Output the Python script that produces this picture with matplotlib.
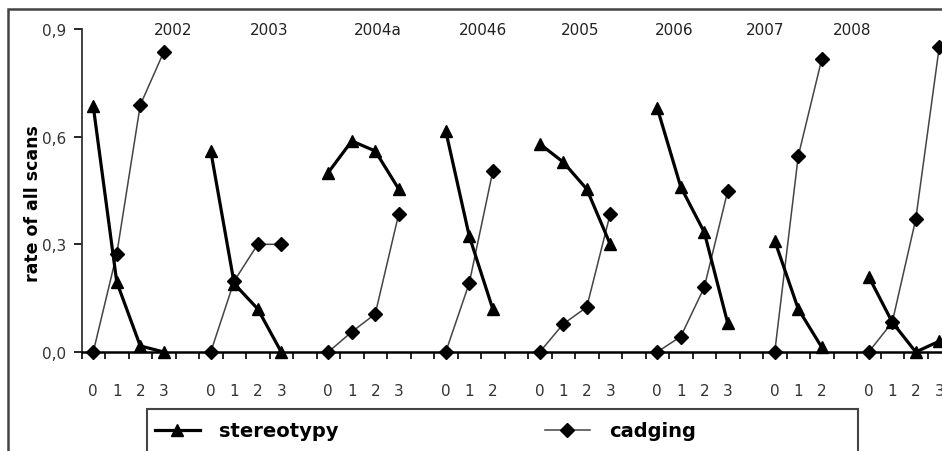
import matplotlib
matplotlib.use('Agg')
import matplotlib.pyplot as plt
from matplotlib.lines import Line2D
from matplotlib.patches import Rectangle

# data (rate of all scans per level 0..3)
groups = ['2002', '2003', '2004a', '20046', '2005', '2006', '2007', '2008']
stereotypy = [
    [0.685, 0.195, 0.017, 0.0],
    [0.56, 0.19, 0.12, 0.0],
    [0.50, 0.588, 0.56, 0.454],
    [0.616, 0.323, 0.12],
    [0.58, 0.529, 0.454, 0.30],
    [0.68, 0.46, 0.334, 0.08],
    [0.31, 0.12, 0.013],
    [0.21, 0.083, 0.0, 0.03],
]
cadging = [
    [0.0, 0.273, 0.688, 0.836],
    [0.0, 0.198, 0.30, 0.30],
    [0.0, 0.056, 0.106, 0.385],
    [0.0, 0.192, 0.503],
    [0.0, 0.078, 0.125, 0.385],
    [0.0, 0.043, 0.18, 0.449],
    [0.0, 0.546, 0.816],
    [0.0, 0.083, 0.37, 0.85],
]

# layout: where the year labels sit along the category axis
year_x = [3.4, 7.5, 12.1, 16.6, 20.7, 24.7, 28.6, 32.3]

W, H = 942, 452
fig = plt.figure(figsize=(W / 100, H / 100), dpi=100)
ax = fig.add_axes([81.5 / W, 1 - 353 / H, 869.5 / W, 323 / H])

txt = '#222222'
pos = 0
xticks_lab = []
xlabels = []
for i, g in enumerate(groups):
    n = len(stereotypy[i])
    xs = list(range(pos, pos + n))
    ax.plot(xs, stereotypy[i], color='black', lw=2.3, marker='^', ms=9,
            clip_on=False, zorder=4)
    ax.plot(xs, cadging[i], color='#444444', lw=1.1, marker='D', ms=7.2,
            mfc='black', mec='black', clip_on=False, zorder=3)
    xticks_lab += xs
    xlabels += [str(k) for k in range(n)]
    pos += n + 1

for g, x in zip(groups, year_x):
    ax.text(x, 0.9, g, ha='center', va='center', fontsize=11, color=txt)

ax.set_xlim(-0.5, 36.5)
ax.set_ylim(0, 0.9)
ax.spines['top'].set_visible(False)
ax.spines['right'].set_visible(False)
ax.spines['bottom'].set_linewidth(1.8)
ax.spines['left'].set_linewidth(1.3)
ax.spines['left'].set_color('#333333')

ax.set_yticks([0, 0.3, 0.6, 0.9])
ax.set_yticklabels(['0,0', '0,3', '0,6', '0,9'])
ax.tick_params(axis='y', direction='out', length=6, width=1.2, pad=5,
               labelsize=11, labelcolor='#333333')

ax.set_xticks([k - 0.5 for k in range(38)])
ax.set_xticklabels([])
ax.tick_params(axis='x', which='major', direction='out', length=5, width=1.2)
ax.set_xticks(xticks_lab, minor=True)
ax.set_xticklabels(xlabels, minor=True)
ax.tick_params(axis='x', which='minor', length=0, pad=22,
               labelsize=11, labelcolor='#333333')

fig.text(33 / W, 1 - 204 / H, 'rate of all scans', rotation=90,
         ha='center', va='center', fontsize=12.5, fontweight='bold')

# outer frame (cropped on the right and bottom)
fig.add_artist(Rectangle((8 / W, -0.2), 1.2, 1.2 - 10 / H, transform=fig.transFigure,
                         fill=False, lw=1.8, edgecolor='#444444'))

# legend frame and entries
fig.add_artist(Rectangle((147 / W, -0.2), 711 / W, 0.2 + 1 - 410 / H,
                         transform=fig.transFigure, fill=False, lw=1.5,
                         edgecolor='#444444'))
handles = [
    Line2D([], [], color='black', lw=2.3, marker='^', ms=9),
    Line2D([], [], color='#444444', lw=1.1, marker='D', ms=7.2,
           mfc='black', mec='black'),
]
fig.legend(handles, ['stereotypy', 'cadging'], ncol=2, frameon=False,
           loc='center left', bbox_to_anchor=(155 / W, 1 - 432 / H),
           borderpad=0, borderaxespad=0, handlelength=2.3, handletextpad=1.0,
           columnspacing=10.6, prop={'weight': 'bold', 'size': 14})

fig.savefig('out.png', dpi=100)
